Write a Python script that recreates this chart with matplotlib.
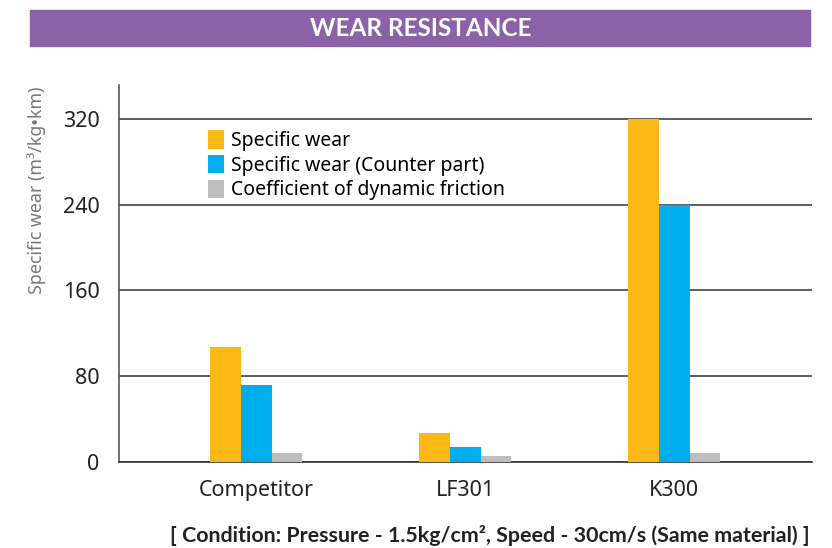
import matplotlib
matplotlib.use("Agg")
from matplotlib import pyplot as plt
from matplotlib.patches import Rectangle
import numpy as np

plt.rcParams['font.family'] = ['Noto Sans', 'DejaVu Sans']

categories = ['Competitor', 'LF301', 'K300']
specific_wear = [107, 27, 320]
counter_wear = [72, 14, 240]
friction = [8, 6, 8]
series_names = ['Specific wear', 'Specific wear (Counter part)',
                'Coefficient of dynamic friction']
colors = ['#FBB817', '#00AEEF', '#BCBEC0']
yticks = [0, 80, 160, 240, 320]

fig = plt.figure(figsize=(8.32, 5.48), dpi=100)
ax = fig.add_axes([119 / 832, 1 - 462 / 548, (812 - 119) / 832, (462 - 85) / 548])

x = np.arange(len(categories))
w = 0.148
for i, (vals, name) in enumerate(zip([specific_wear, counter_wear, friction], series_names)):
    ax.bar(x + (i - 1) * w, vals, w, color=colors[i], label=name, zorder=3)

ax.set_xlim(-0.656, 2.66)
ax.set_ylim(0, 351.7)
ax.set_yticks(yticks)
ax.set_xticks(x)
ax.set_xticklabels(categories, fontsize=15.5, color='#222222')
ax.tick_params(axis='y', length=0, labelsize=15.5, labelcolor='#222222', pad=14)
ax.tick_params(axis='x', length=0, pad=13)
ax.grid(axis='y', color='#333333', linewidth=1.1, zorder=1)
for s in ['top', 'right']:
    ax.spines[s].set_visible(False)
ax.spines['left'].set_color('#555555')
ax.spines['left'].set_linewidth(1.2)
ax.spines['bottom'].set_color('#333333')
ax.spines['bottom'].set_linewidth(1.2)

ax.set_ylabel('Specific wear (m³/kg•km)', fontsize=12.8, color='#777777')
ax.yaxis.set_label_coords(-0.106, 0.72)

ax.legend(loc='upper left', bbox_to_anchor=(0.117, 0.9), frameon=False,
          fontsize=14, handlelength=0.85, handleheight=1.05, handletextpad=0.35,
          labelspacing=0.2, borderaxespad=0)

# title band
fig.patches.append(Rectangle((30 / 832, 1 - 46 / 548), 780 / 832, 36 / 548,
                             transform=fig.transFigure, color='#8B62A8', zorder=0))
fig.text(421 / 832, 1 - 29 / 548, 'WEAR RESISTANCE', color='white', fontsize=17.5,
         family='Lato', fontweight='bold', ha='center', va='center')

fig.text(810 / 832, 1 - 535 / 548,
         '[ Condition: Pressure - 1.5kg/cm², Speed - 30cm/s (Same material) ]',
         fontsize=15.4, family='Lato', fontweight='bold', color='#222222',
         ha='right', va='center')

fig.savefig('out.png', dpi=100)
